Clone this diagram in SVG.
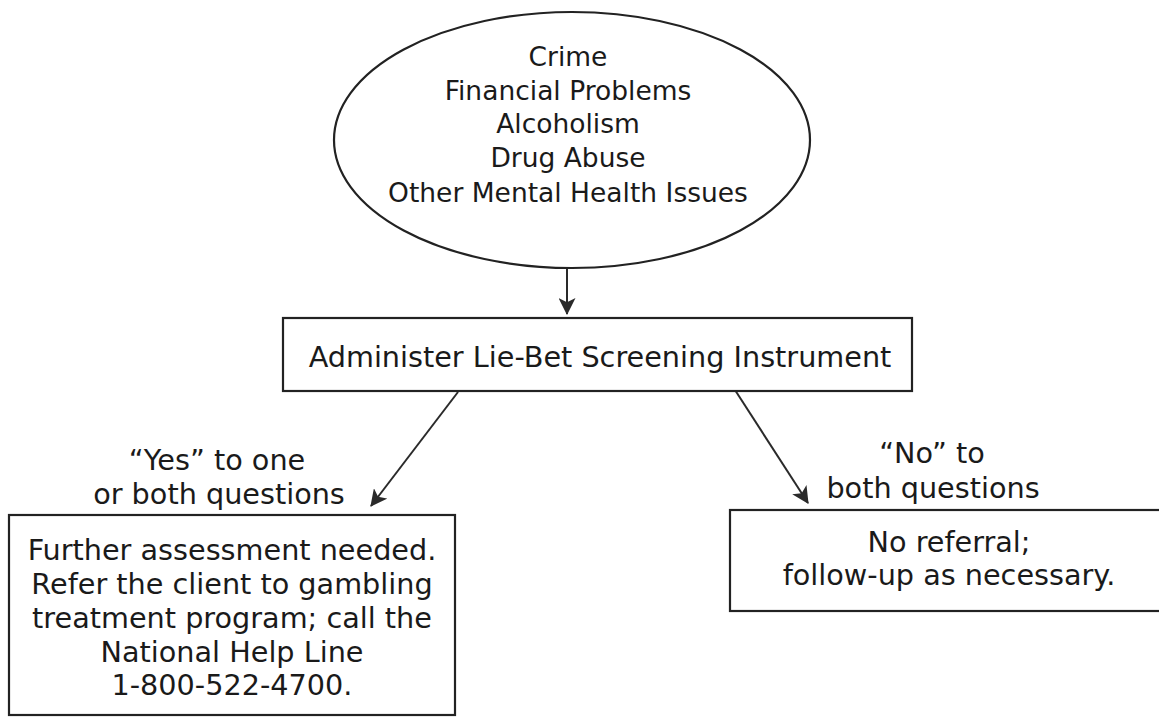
<svg xmlns="http://www.w3.org/2000/svg" width="1159" height="719" viewBox="0 0 1159 719">
<defs>
<style>
.t{font-family:"DejaVu Sans","Verdana",sans-serif;fill:#1a1a1a;text-anchor:middle}
.e{font-size:26.5px}
.b{font-size:28.7px}
.s{fill:#fff;stroke:#222;stroke-width:2.2}
.c{stroke:#2a2a2a;stroke-width:2;fill:none}
</style>
<marker id="ah" viewBox="0 0 16 16" refX="15" refY="8" markerWidth="17" markerHeight="17" markerUnits="userSpaceOnUse" orient="auto">
<path d="M0,0 L16,8 L0,16 L4,8 z" fill="#2a2a2a"/>
</marker>
</defs>
<rect width="1159" height="719" fill="#fff"/>
<g id="connectors">
<line class="c" x1="567" y1="268" x2="567" y2="314" marker-end="url(#ah)"/>
<line class="c" x1="458" y1="392" x2="371" y2="506" marker-end="url(#ah)"/>
<line class="c" x1="735" y1="390" x2="808" y2="503" marker-end="url(#ah)"/>
</g>
<g id="issues">
<ellipse class="s" cx="572" cy="140" rx="238" ry="128"/>
<text class="t e" x="568" y="66">Crime</text>
<text class="t e" x="568" y="100">Financial Problems</text>
<text class="t e" x="568" y="133">Alcoholism</text>
<text class="t e" x="568" y="167">Drug Abuse</text>
<text class="t e" x="568" y="202">Other Mental Health Issues</text>
</g>
<g id="screening">
<rect class="s" x="283" y="318" width="629" height="73"/>
<text class="t b" x="600" y="367">Administer Lie-Bet Screening Instrument</text>
</g>
<g id="label-yes">
<text class="t b" x="217" y="470">“Yes” to one</text>
<text class="t b" x="219" y="504">or both questions</text>
</g>
<g id="label-no">
<text class="t b" x="932" y="463">“No” to</text>
<text class="t b" x="933" y="498">both questions</text>
</g>
<g id="referral">
<rect class="s" x="9" y="515" width="446" height="200"/>
<text class="t b" x="232" y="560">Further assessment needed.</text>
<text class="t b" x="232" y="594">Refer the client to gambling</text>
<text class="t b" x="232" y="628">treatment program; call the</text>
<text class="t b" x="232" y="662">National Help Line</text>
<text class="t b" x="232" y="695">1-800-522-4700.</text>
</g>
<g id="no-referral">
<rect class="s" x="730" y="510" width="445" height="101"/>
<text class="t b" x="949" y="552">No referral;</text>
<text class="t b" x="949" y="585">follow-up as necessary.</text>
</g>
</svg>
